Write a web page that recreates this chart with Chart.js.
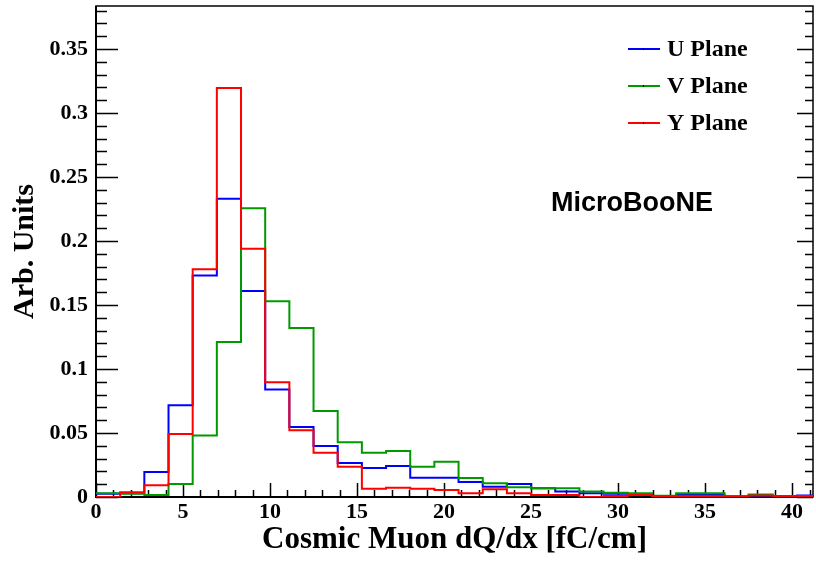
<!DOCTYPE html>
<html>
<head>
<meta charset="utf-8">
<script src="https://cdn.jsdelivr.net/npm/chart.js@4.4.1/dist/chart.umd.min.js"></script>
<style>
html,body{margin:0;padding:0;background:#fff;}
#wrap{width:816px;height:561px;position:relative;}
</style>
</head>
<body>
<div id="wrap"><canvas id="c" width="816" height="561"></canvas></div>
<script>
// Bin edges (x, fC/cm)
const binEdges = [0, 1.389, 2.778, 4.167, 5.556, 6.944, 8.333, 9.722, 11.111, 12.5, 13.889, 15.278, 16.667, 18.056, 19.444, 20.833, 22.222, 23.611, 25, 26.389, 27.778, 29.167, 30.556, 31.944, 33.333, 34.722, 36.111, 37.5, 38.889, 40.278, 41.667];
// Series values per bin (Arb. Units)
const uPlane = [0.0025, 0.003, 0.0195, 0.0716, 0.173, 0.233, 0.161, 0.084, 0.0547, 0.0398, 0.0266, 0.0227, 0.0243, 0.0151, 0.0151, 0.0117, 0.008, 0.0102, 0.0068, 0.0042, 0.0029, 0.0026, 0.002, 0.0008, 0.0016, 0.0021, 0.0005, 0.001, 0.0008, 0.0012];
const vPlane = [0.003, 0.0025, 0.0016, 0.0102, 0.048, 0.121, 0.2255, 0.153, 0.132, 0.0672, 0.0427, 0.0346, 0.0359, 0.0237, 0.0276, 0.0148, 0.0107, 0.0076, 0.0068, 0.0068, 0.0042, 0.0034, 0.0029, 0.001, 0.003, 0.003, 0.0005, 0.002, 0.0008, 0.0008];
const yPlane = [0.0, 0.0037, 0.0092, 0.0492, 0.178, 0.3195, 0.194, 0.0896, 0.0521, 0.0346, 0.0237, 0.0065, 0.0073, 0.0065, 0.0055, 0.0029, 0.006, 0.0029, 0.0016, 0.0016, 0.0, 0.0008, 0.0016, 0.0005, 0.0008, 0.0008, 0.0, 0.0012, 0.0005, 0.0005];
const seriesNames = ["U Plane", "V Plane", "Y Plane"];
// Tick labels
const xTickValues = [0, 5, 10, 15, 20, 25, 30, 35, 40];
const xTickLabels = ["0", "5", "10", "15", "20", "25", "30", "35", "40"];
const yTickValues = [0, 0.05, 0.1, 0.15, 0.2, 0.25, 0.3, 0.35];
const yTickLabels = ["0", "0.05", "0.1", "0.15", "0.2", "0.25", "0.3", "0.35"];
const xTitle = "Cosmic Muon dQ/dx [fC/cm]";
const yTitle = "Arb. Units";
const labelText = "MicroBooNE";

const COLORS = ["#0000ff", "#009a00", "#ff0000"];

function histPoints(vals) {
  return binEdges.map((e, i) => ({x: e, y: vals[Math.min(i, vals.length - 1)]}));
}

const SERIF = "'Liberation Serif', 'Times New Roman', serif";

const rootFrame = {
  id: 'rootFrame',
  beforeDatasetsDraw(chart) {
    const {ctx, chartArea: a, scales: {x, y}} = chart;
    ctx.save();
    ctx.strokeStyle = '#000';
    ctx.lineWidth = 1.5;
    ctx.strokeRect(a.left, a.top, a.right - a.left, a.bottom - a.top);
    ctx.lineWidth = 2;
    ctx.beginPath();
    ctx.moveTo(a.left, a.top); ctx.lineTo(a.left, a.bottom); ctx.lineTo(a.right, a.bottom);
    ctx.stroke();
    ctx.lineWidth = 1.5;
    ctx.beginPath();
    for (let v = 0; v <= x.max + 1e-9; v += 1) {
      const px = Math.round(x.getPixelForValue(v)) + 0.5;
      const len = (v % 5 === 0) ? 14 : 7;
      ctx.moveTo(px, a.bottom); ctx.lineTo(px, a.bottom - len);
    }
    for (let i = 0; i * 0.01 <= y.max + 1e-9; i++) {
      const v = i * 0.01;
      const py = Math.round(y.getPixelForValue(v)) + 0.5;
      const major = (i % 5 === 0);
      ctx.moveTo(a.left, py); ctx.lineTo(a.left + (major ? 22 : 11), py);
      ctx.moveTo(a.right, py); ctx.lineTo(a.right - (major ? 16 : 8), py);
    }
    ctx.stroke();
    ctx.restore();
  },
  afterDraw(chart) {
    const {ctx} = chart;
    ctx.save();
    const ly = [49, 86, 123];
    ctx.font = "bold 24px " + SERIF;
    ctx.textBaseline = 'middle';
    ctx.textAlign = 'left';
    for (let i = 0; i < 3; i++) {
      ctx.strokeStyle = COLORS[i];
      ctx.lineWidth = 2;
      ctx.beginPath();
      ctx.moveTo(628, ly[i]); ctx.lineTo(660, ly[i]);
      ctx.stroke();
      ctx.fillStyle = '#000';
      ctx.fillRect(643, ly[i] - 1, 1, 2);
      ctx.fillText(seriesNames[i], 667, ly[i] + 1);
    }
    ctx.font = "bold 27px 'Liberation Sans', Arial, sans-serif";
    ctx.fillText(labelText, 551, 204);
    ctx.restore();
  }
};

new Chart(document.getElementById('c'), {
  type: 'line',
  data: {
    datasets: [
      {label: seriesNames[0], data: histPoints(uPlane), borderColor: COLORS[0], order: 2},
      {label: seriesNames[1], data: histPoints(vPlane), borderColor: COLORS[1], order: 1},
      {label: seriesNames[2], data: histPoints(yPlane), borderColor: COLORS[2], order: 0}
    ].map(d => Object.assign(d, {stepped: 'before', borderWidth: 2, pointRadius: 0, fill: false, tension: 0, borderJoinStyle: 'miter', borderCapStyle: 'butt'}))
  },
  options: {
    responsive: false,
    animation: false,
    devicePixelRatio: 1,
    layout: {padding: {top: 6, right: 3, left: 0, bottom: 0}},
    plugins: {legend: {display: false}, tooltip: {enabled: false}},
    scales: {
      x: {
        type: 'linear', min: 0, max: 41.2,
        grid: {display: false, drawTicks: false},
        border: {display: false},
        afterBuildTicks: s => { s.ticks = xTickValues.map(v => ({value: v})); },
        afterFit: s => { s.height = 64; s.paddingLeft = 0; s.paddingRight = 0; },
        ticks: {
          autoSkip: false, maxRotation: 0, padding: 2, color: '#000',
          font: {family: SERIF, size: 22, weight: 'bold'},
          callback: (v, i) => xTickLabels[i]
        },
        title: {display: true, text: xTitle, color: '#000', font: {family: SERIF, size: 31, weight: 'bold'}, padding: {top: 0, bottom: 2}}
      },
      y: {
        type: 'linear', min: 0, max: 0.3836,
        grid: {display: false, drawTicks: false},
        border: {display: false},
        afterBuildTicks: s => { s.ticks = yTickValues.map(v => ({value: v})); },
        afterFit: s => { s.width = 96; s.paddingTop = 0; s.paddingBottom = 0; },
        ticks: {
          autoSkip: false, padding: 8, color: '#000',
          font: {family: SERIF, size: 22, weight: 'bold'},
          callback: (v, i) => yTickLabels[i]
        },
        title: {display: true, text: yTitle, color: '#000', font: {family: SERIF, size: 30, weight: 'bold'}, padding: {top: 7, bottom: 0}}
      }
    }
  },
  plugins: [rootFrame]
});
</script>
</body>
</html>
